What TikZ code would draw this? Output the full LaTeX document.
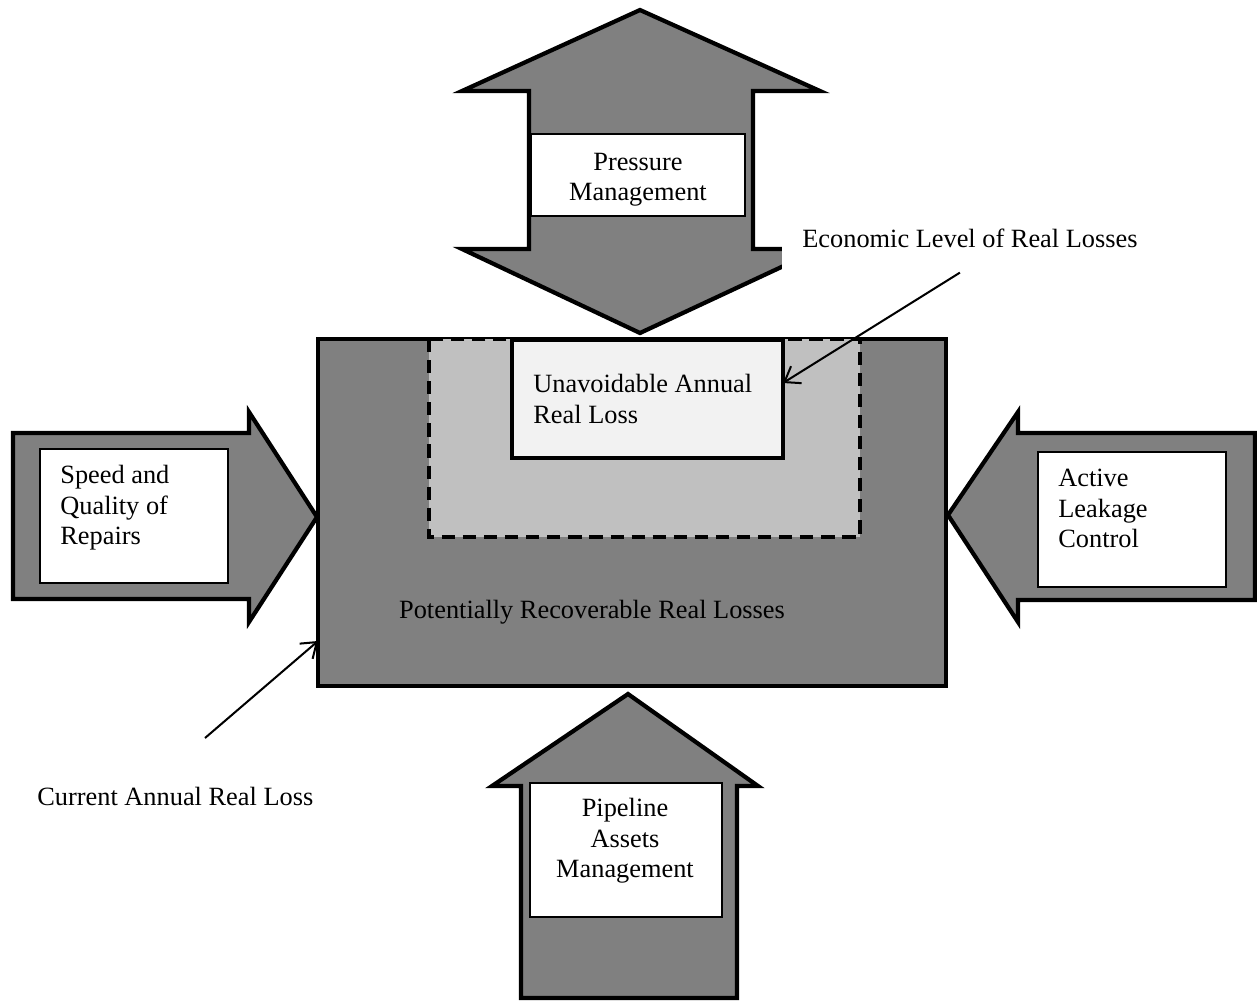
\documentclass[tikz,border=0pt]{standalone}
\usepackage{fontspec}
\setmainfont{Liberation Serif}
\usepackage{tikz}
\usetikzlibrary{calc,arrows.meta}
\definecolor{shaft}{HTML}{808080}
\definecolor{zone}{HTML}{C0C0C0}
\definecolor{core}{HTML}{F2F2F2}
\tikzset{
  bigarrow/.style={draw=black, fill=shaft, line width=2.4pt},
  mainbox/.style={draw=black, fill=shaft, line width=2.4pt, outer sep=0pt},
  zonebox/.style={draw=black, fill=zone, line width=2.1pt, dash pattern=on 7.5pt off 4.5pt},
  corebox/.style={draw=black, fill=core, line width=2.4pt, outer sep=0pt},
  labelbox/.style={draw=black, fill=white, line width=0.8pt},
  lab/.style={font=\fontsize{15pt}{17.36pt}\selectfont, inner sep=0pt},
  pointer/.style={draw=black, line width=1.15pt, -{Straight Barb[length=2.8mm,width=4mm]}},
}

\begin{document}
\begin{tikzpicture}[x=0.02cm, y=-0.02cm]
  \useasboundingbox (0,0) rectangle (1257,1002);

  % pressure management, pointing both ways
  \draw[bigarrow] (640,10) -- (820,91) -- (753,91) -- (753,249) -- (820,249)
    -- (640,333) -- (462,249) -- (529,249) -- (529,91) -- (462,91) -- cycle;
  \node[labelbox, minimum width=4.28cm, minimum height=1.64cm] (pressbox) at (638,175) {};
  \node[lab, anchor=north, align=center] (press) at (638,152.5) {Pressure\\Management};

  % the losses
  \node[mainbox, minimum width=12.56cm, minimum height=6.94cm] (main) at (632,512.5) {};
  \draw[zonebox] (429,339) rectangle (860,537);
  \node[corebox, minimum width=5.42cm, minimum height=2.36cm] (unavoid) at (647.5,399) {};
  \node[lab, anchor=north west, align=left] (unavoidtxt) at (533,374) {Unavoidable Annual\\Real Loss};
  \node[lab, anchor=base] (recov) at (592,618) {Potentially Recoverable Real Losses};

  % speed and quality of repairs
  \draw[bigarrow] (13,433) -- (249,433) -- (249,412) -- (317,517) -- (249,622)
    -- (249,599) -- (13,599) -- cycle;
  \node[labelbox, minimum width=3.76cm, minimum height=2.68cm] (speedbox) at (134,516) {};
  \node[lab, anchor=north west, align=left] (speed) at (60,465) {Speed and\\Quality of\\Repairs};

  % active leakage control
  \draw[bigarrow] (1255,433) -- (1018,433) -- (1018,412) -- (948,515) -- (1018,622)
    -- (1018,600) -- (1255,600) -- cycle;
  \node[labelbox, minimum width=3.76cm, minimum height=2.70cm] (activebox) at (1132,519.5) {};
  \node[lab, anchor=north west, align=left] (active) at (1058,469) {Active\\Leakage\\Control};

  % pipeline assets
  \draw[bigarrow] (628,694) -- (758,786) -- (737,786) -- (737,998) -- (521,998)
    -- (521,786) -- (492,786) -- cycle;
  \node[labelbox, minimum width=3.84cm, minimum height=2.68cm] (pipebox) at (626,850) {};
  \node[lab, anchor=north, align=center] (pipe) at (625,798) {Pipeline\\Assets\\Management};

  % pointers
  \node[lab, fill=white, anchor=base west, inner xsep=0.4cm, inner ysep=0.56cm] (econ) at (782,247) {Economic Level of Real Losses};
  \draw[pointer] ($(econ.south)+(-10,-3)$) -- ($(unavoid.east)+(0,-16)$);

  \node[lab, anchor=base west] (current) at (37,805) {Current Annual Real Loss};
  \coordinate (curtail) at (205,738);
  \draw[pointer] (curtail) -- ($(main.south west)+(0,-45)$);
\end{tikzpicture}
\end{document}
